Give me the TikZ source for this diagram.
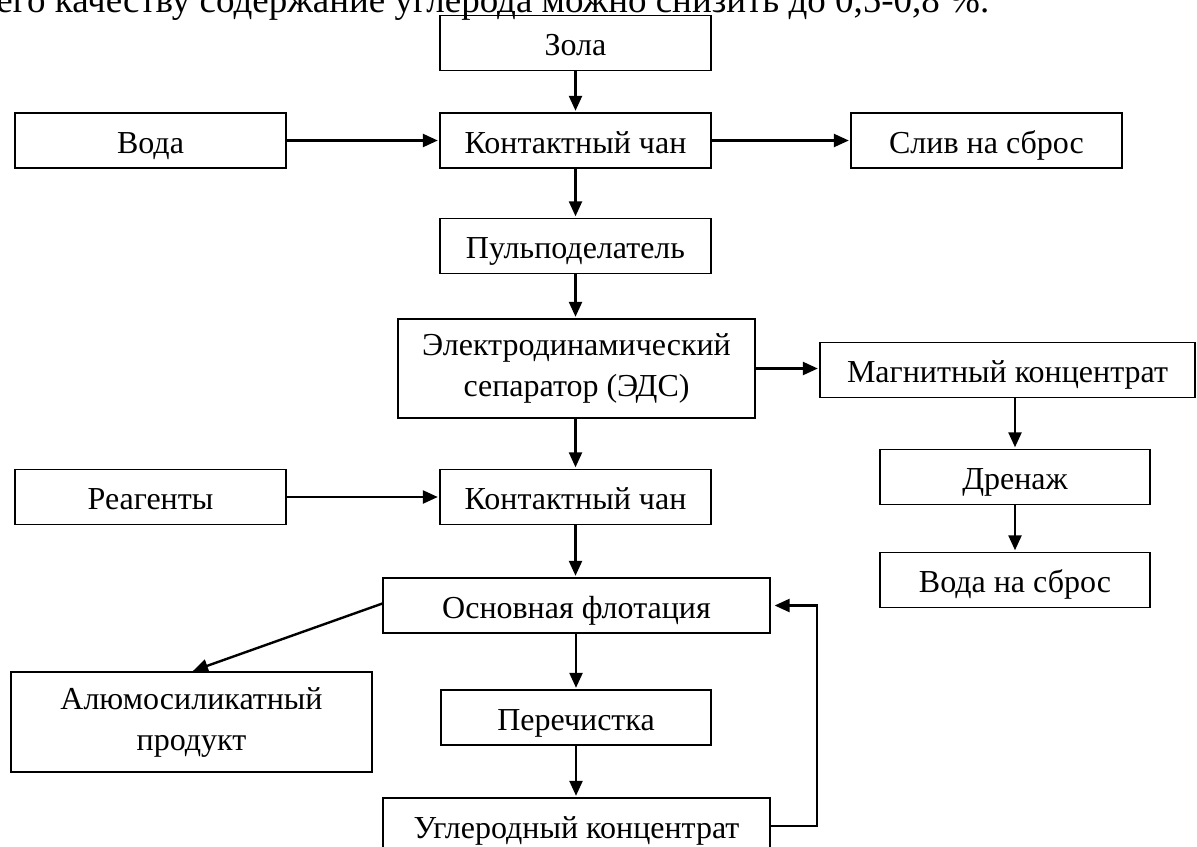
\documentclass[tikz,border=0pt]{standalone}
\usepackage{fontspec}
\setmainfont{Liberation Serif}
\usetikzlibrary{arrows.meta}

\begin{document}
\begin{tikzpicture}[x=0.5pt,y=-0.5pt,
  blk/.style={draw, line width=0.6pt, inner sep=0pt, align=center,
    minimum width=135.5pt, minimum height=27.5pt,
    font=\fontsize{16}{20.5}\selectfont},
  box/.style={blk, text height=12.5pt, text depth=0pt},
  arr/.style={line width=1.2pt, shorten >=0.8pt,
    -{Triangle[length=7.5pt,width=6.5pt]}}]
\useasboundingbox (0,0) rectangle (1197,846);
\clip (0,0) rectangle (1197,846);

\node[anchor=base west, inner sep=0pt, font=\fontsize{18.5}{22}\selectfont] (head) at (-4,12)
  {его качеству содержание углерода можно снизить до 0,5-0,8 \%.};

% upper part
\node[box] (zola) at (575.5,43) {Зола};
\node[box] (voda) at (150.5,140.5) {Вода};
\node[box] (kch1) at (575.5,140.5) {Контактный чан};
\node[box] (sliv) at (986.5,140.5) {Слив на сброс};
\node[box] (pulp) at (575.5,246) {Пульподелатель};
\node[blk, minimum width=178.5pt, minimum height=49.5pt] (eds) at (576.5,368.5)
  {Электродинамический\\сепаратор (ЭДС)};

% magnetic branch
\node[box, minimum width=187.5pt] (magn) at (1007.5,370) {Магнитный концентрат};
\node[box, minimum width=135pt] (dren) at (1015,477) {Дренаж};
\node[box, minimum width=135pt] (vsbr) at (1015,580) {Вода на сброс};

% flotation
\node[box] (reag) at (150.5,497) {Реагенты};
\node[box] (kch2) at (575.5,497) {Контактный чан};
\node[box, minimum width=193.5pt] (osn) at (576.5,605.5) {Основная флотация};
\node[blk, minimum width=180.5pt, minimum height=50pt] (alum) at (191.5,722)
  {Алюмосиликатный\\продукт};
\node[box, minimum width=135pt] (per) at (576,717.5) {Перечистка};
\node[box, minimum width=193.5pt, minimum height=28pt] (ugl) at (576.5,826) {Углеродный концентрат};
\coordinate (back) at (817,605.5);

\draw[arr] (zola) -- (kch1);
\draw[arr] (voda) -- (kch1);
\draw[arr] (kch1) -- (sliv);
\draw[arr] (kch1) -- (pulp);
\draw[arr] (pulp) -- (pulp |- eds.north);
\draw[arr] (eds.east) -- (magn.west |- eds.east);
\draw[arr] (dren.north |- magn.south) -- (dren.north);
\draw[arr] (dren) -- (vsbr);
\draw[arr] (kch2 |- eds.south) -- (kch2);
\draw[arr] (reag) -- (kch2);
\draw[arr] (kch2) -- (kch2 |- osn.north);
\draw[arr] ([yshift=1pt]osn.west) -- (alum.north);
\draw[arr] (per |- osn.south) -- (per);
\draw[arr] (per) -- (per |- ugl.north);
\draw[arr, shorten >=2pt] (ugl.east) -| (back) -- (osn.east);
\end{tikzpicture}
\end{document}
